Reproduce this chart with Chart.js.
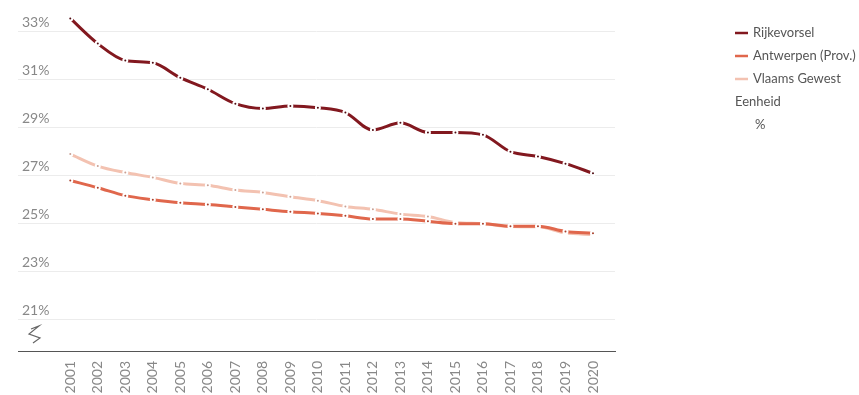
<!DOCTYPE html>
<html>
<head>
<meta charset="utf-8">
<script src="https://cdn.jsdelivr.net/npm/chart.js@4"></script>
<style>
  html, body { margin: 0; padding: 0; background: #fff; }
  #c { display: block; }
</style>
</head>
<body>
<canvas id="c" width="859" height="395"></canvas>
<script>
const years = [2001,2002,2003,2004,2005,2006,2007,2008,2009,2010,2011,2012,2013,2014,2015,2016,2017,2018,2019,2020];
const rijkevorsel = [33.55,32.5,31.8,31.7,31.08,30.6,30.0,29.8,29.9,29.83,29.63,28.9,29.2,28.8,28.8,28.7,28.0,27.8,27.5,27.1];
const antwerpen   = [26.8,26.5,26.17,26.0,25.87,25.8,25.7,25.6,25.5,25.43,25.33,25.2,25.2,25.1,25.0,25.0,24.9,24.9,24.68,24.6];
const vlaams      = [27.9,27.4,27.13,26.93,26.68,26.6,26.4,26.3,26.12,25.96,25.72,25.6,25.4,25.3,25.05,25.0,24.88,24.87,24.62,24.55];
const yTicks = [21,23,25,27,29,31,33];
const seriesNames = ['Rijkevorsel','Antwerpen (Prov.)','Vlaams Gewest'];
const unitTitle = 'Eenheid';
const unitLabel = '%';

const colors = ['#82181f','#e0674c','#f3c2b1'];
const dotColors = ['#4e0c12','#a8402c','#c9a094'];

function pts(arr){ return years.map((y,i)=>({x:y, y:arr[i]})); }
function ds(label, arr, i){
  return {
    label, data: pts(arr),
    borderColor: colors[i], backgroundColor: colors[i],
    borderWidth: 3, tension: 0.4, cubicInterpolationMode: 'monotone',
    pointRadius: 2, pointBorderWidth: 2, pointBorderColor: '#ffffff',
    pointBackgroundColor: dotColors[i], fill: false
  };
}

const extras = {
  id: 'extras',
  afterDraw(chart){
    const ctx = chart.ctx;
    ctx.save();
    // axis break symbol
    ctx.strokeStyle = '#666'; ctx.lineWidth = 1.2;
    ctx.beginPath();
    ctx.moveTo(31,329); ctx.lineTo(39,326); ctx.lineTo(29,334); ctx.lineTo(40,338); ctx.lineTo(33,343);
    ctx.stroke();
    // legend
    ctx.font = '13px Lato, "Open Sans", sans-serif';
    ctx.textBaseline = 'middle';
    ctx.textAlign = 'left';
    const rows = [33,56,79];
    seriesNames.forEach((n,i)=>{
      ctx.strokeStyle = colors[i]; ctx.lineWidth = 2.5;
      ctx.beginPath(); ctx.moveTo(735, rows[i]); ctx.lineTo(748, rows[i]); ctx.stroke();
      ctx.fillStyle = '#555';
      ctx.fillText(n, 753, rows[i]);
    });
    ctx.fillStyle = '#555';
    ctx.fillText(unitTitle, 735, 102);
    ctx.fillText(unitLabel, 755, 125);
    ctx.restore();
  }
};

new Chart(document.getElementById('c'), {
  type: 'line',
  data: { datasets: [ds(seriesNames[0], rijkevorsel, 0), ds(seriesNames[1], antwerpen, 1), ds(seriesNames[2], vlaams, 2)] },
  options: {
    responsive: false, animation: false,
    layout: { padding: { top: 12, left: 18, right: 244, bottom: 0 } },
    plugins: { legend: { display: false }, tooltip: { enabled: false } },
    scales: {
      x: {
        type: 'linear', min: 1999.1, max: 2020.8,
        afterBuildTicks: (s) => { s.ticks = years.map(v => ({value: v})); },
        afterFit: (s) => { s.height = 44; },
        grid: { display: false, drawTicks: false },
        border: { display: true, color: '#555', width: 1 },
        ticks: {
          autoSkip: false, minRotation: 90, maxRotation: 90, padding: 10,
          color: '#888', font: { family: 'Lato, "Open Sans", sans-serif', size: 14 },
          callback: (v) => String(v)
        }
      },
      y: {
        min: 19.7, max: 33.8,
        afterBuildTicks: (s) => { s.ticks = yTicks.map(v => ({value: v})); },
        afterFit: (s) => { s.width = 0; },
        grid: { color: '#ececec', drawTicks: false, lineWidth: 1 },
        border: { display: false },
        ticks: {
          mirror: true, padding: 4, labelOffset: -9,
          color: '#888', font: { family: 'Lato, "Open Sans", sans-serif', size: 14 },
          callback: (v) => v + '%'
        }
      }
    }
  },
  plugins: [extras]
});
</script>
</body>
</html>
